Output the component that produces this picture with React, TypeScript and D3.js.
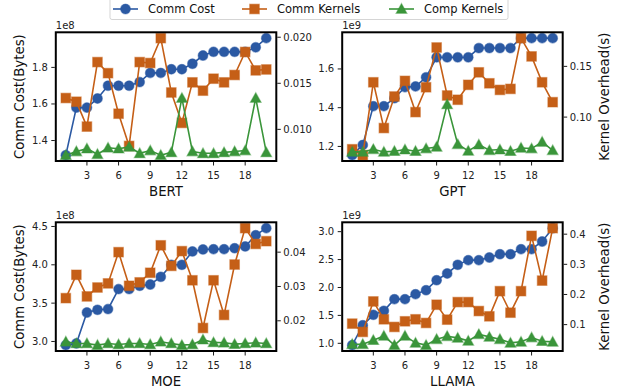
import React from "react";
import * as d3 from "d3";

const xs = d3.range(1, 21);
const xTicks = [3, 6, 9, 12, 15, 18];

const bertCost = [1.32, 1.58, 1.58, 1.63, 1.70, 1.70, 1.70, 1.72, 1.77, 1.77, 1.79, 1.79, 1.82, 1.865, 1.885, 1.885, 1.885, 1.885, 1.91, 1.96];
const bertComm = [0.0134, 0.0130, 0.0103, 0.0173, 0.0161, 0.0117, 0.0082, 0.0173, 0.0172, 0.0199, 0.0140, 0.0107, 0.0151, 0.0142, 0.0155, 0.0151, 0.0159, 0.0184, 0.0164, 0.0165];
const bertComp = [0.0072, 0.0076, 0.0079, 0.0073, 0.0080, 0.0079, 0.0081, 0.0074, 0.0077, 0.0072, 0.0075, 0.0134, 0.0076, 0.0074, 0.0074, 0.0075, 0.0076, 0.0077, 0.0134, 0.0075];

const gptCost = [1.155, 1.208, 1.408, 1.408, 1.449, 1.506, 1.51, 1.557, 1.66, 1.66, 1.66, 1.66, 1.708, 1.708, 1.708, 1.708, 1.759, 1.759, 1.759, 1.759];
const gptComm = [0.0683, 0.0625, 0.1343, 0.0892, 0.1203, 0.1357, 0.1049, 0.1294, 0.1686, 0.1213, 0.1171, 0.1318, 0.1441, 0.1333, 0.1268, 0.1278, 0.1778, 0.1598, 0.1343, 0.1147];
const gptComp = [0.0657, 0.0657, 0.0683, 0.0657, 0.0664, 0.068, 0.0664, 0.069, 0.0706, 0.1125, 0.0732, 0.0667, 0.0729, 0.0673, 0.068, 0.0664, 0.0696, 0.069, 0.0755, 0.0673];

const moeCost = [2.952, 2.974, 3.378, 3.413, 3.422, 3.683, 3.683, 3.726, 3.743, 3.843, 4.0, 4.0, 4.174, 4.2, 4.204, 4.204, 4.217, 4.239, 4.387, 4.478];
const moeComm = [0.0266, 0.0334, 0.0271, 0.0297, 0.0309, 0.0400, 0.0302, 0.0312, 0.0340, 0.0420, 0.0360, 0.0403, 0.0318, 0.0179, 0.0318, 0.0217, 0.0364, 0.0470, 0.0424, 0.0432];
const moeComp = [0.0139, 0.0134, 0.0134, 0.0129, 0.0134, 0.0131, 0.0134, 0.0134, 0.0131, 0.0139, 0.0134, 0.0129, 0.0131, 0.0145, 0.0137, 0.0136, 0.0132, 0.0134, 0.0136, 0.0134];

const llamaCost = [0.967, 1.325, 1.51, 1.582, 1.791, 1.791, 1.881, 1.952, 2.131, 2.251, 2.406, 2.49, 2.49, 2.537, 2.597, 2.597, 2.687, 2.687, 2.824, 3.063];
const llamaComm = [0.1033, 0.0758, 0.1769, 0.1176, 0.0923, 0.111, 0.1176, 0.1055, 0.166, 0.1165, 0.1747, 0.1747, 0.145, 0.1275, 0.211, 0.1396, 0.211, 0.3945, 0.246, 0.42];
const llamaComp = [0.035, 0.035, 0.0484, 0.0626, 0.0319, 0.0626, 0.0396, 0.0319, 0.0516, 0.0615, 0.056, 0.0462, 0.068, 0.0593, 0.0516, 0.0396, 0.0429, 0.0571, 0.045, 0.0429];

const names = ["BERT", "GPT", "MOE", "LLAMA"];
const exponents = ["1e8", "1e9", "1e8", "1e9"];
const leftTicks = [[1.4, 1.6, 1.8], [1.2, 1.4, 1.6], [3.0, 3.5, 4.0, 4.5], [1.0, 1.5, 2.0, 2.5, 3.0]];
const rightTicks = [[0.010, 0.015, 0.020], [0.10, 0.15], [0.02, 0.03, 0.04], [0.1, 0.2, 0.3, 0.4]];
const rightFormats = [".3f", ".2f", ".2f", ".1f"];
const costSeries = [bertCost, gptCost, moeCost, llamaCost];
const commSeries = [bertComm, gptComm, moeComm, llamaComm];
const compSeries = [bertComp, gptComp, moeComp, llamaComp];
const seriesNames = ["Comm Cost", "Comm Kernels", "Comp Kernels"];

const BLUE = "#2b59a3";
const ORANGE = "#c55f17";
const GREEN = "#3a953a";
const FONT = "DejaVu Sans, sans-serif";

const PLOT_W = 220.5;
const PLOT_H = 128.7;
const lefts = [55.8, 342.2];
const tops = [32.3, 222.3];

function pad(ext: number[]) {
  const r = ext[1] - ext[0];
  return [ext[0] - r * 0.05, ext[1] + r * 0.05];
}

function Marker({ kind, x, y, color }: { kind: string; x: number; y: number; color: string }) {
  const common = { fill: color, stroke: color, strokeOpacity: 0.45, strokeWidth: 1.2 } as any;
  if (kind === "circle") return <circle cx={x} cy={y} r={4.9} {...common} />;
  if (kind === "square") return <rect x={x - 4.8} y={y - 4.8} width={9.6} height={9.6} {...common} />;
  const s = 5.4;
  return <path d={`M${x},${y - s} L${x + s},${y + s * 0.8} L${x - s},${y + s * 0.8} Z`} {...common} />;
}

function Panel({ i }: { i: number }) {
  const col = i % 2;
  const row = Math.floor(i / 2);
  const x0 = lefts[col];
  const y0 = tops[row];
  const x = d3.scaleLinear().domain([0.05, 20.95]).range([x0, x0 + PLOT_W]);
  const yL = d3.scaleLinear().domain(pad(d3.extent(costSeries[i]) as number[])).range([y0 + PLOT_H, y0]);
  const rAll = commSeries[i].concat(compSeries[i]);
  const yR = d3.scaleLinear().domain(pad(d3.extent(rAll) as number[])).range([y0 + PLOT_H, y0]);
  const line = (ys: d3.ScaleLinear<number, number>) =>
    d3.line<number>().x((_, j) => x(xs[j])).y((v) => ys(v));
  const fmtR = d3.format(rightFormats[i]);
  const x1 = x0 + PLOT_W;
  const yb = y0 + PLOT_H;
  return (
    <g>
      <defs>
        <clipPath id={`clip${i}`}>
          <rect x={x0} y={y0} width={PLOT_W} height={PLOT_H} />
        </clipPath>
      </defs>
      <g clipPath={`url(#clip${i})`}>
        <path d={line(yL)(costSeries[i]) || ""} fill="none" stroke={BLUE} strokeWidth={1.6} />
        {costSeries[i].map((v, j) => (
          <Marker key={`c${j}`} kind="circle" x={x(xs[j])} y={yL(v)} color={BLUE} />
        ))}
        <path d={line(yR)(commSeries[i]) || ""} fill="none" stroke={ORANGE} strokeWidth={1.6} />
        {commSeries[i].map((v, j) => (
          <Marker key={`k${j}`} kind="square" x={x(xs[j])} y={yR(v)} color={ORANGE} />
        ))}
        <path d={line(yR)(compSeries[i]) || ""} fill="none" stroke={GREEN} strokeWidth={1.6} />
        {compSeries[i].map((v, j) => (
          <Marker key={`p${j}`} kind="tri" x={x(xs[j])} y={yR(v)} color={GREEN} />
        ))}
      </g>
      <rect x={x0} y={y0} width={PLOT_W} height={PLOT_H} fill="none" stroke="#000" strokeWidth={2} />
      {xTicks.map((t) => (
        <g key={`xt${t}`}>
          <line x1={x(t)} x2={x(t)} y1={yb + 1} y2={yb + 4.5} stroke="#000" strokeWidth={0.9} />
          <text x={x(t)} y={yb + 18} textAnchor="middle" fontSize={10} fontFamily={FONT} fill="#222">{t}</text>
        </g>
      ))}
      {leftTicks[i].map((t) => (
        <g key={`yl${t}`}>
          <line x1={x0 - 4.5} x2={x0 - 1} y1={yL(t)} y2={yL(t)} stroke="#000" strokeWidth={0.9} />
          <text x={x0 - 8} y={yL(t)} dy="0.35em" textAnchor="end" fontSize={10} fontFamily={FONT} fill="#222">{t.toFixed(1)}</text>
        </g>
      ))}
      {rightTicks[i].map((t) => (
        <g key={`yr${t}`}>
          <line x1={x1 + 1} x2={x1 + 4.5} y1={yR(t)} y2={yR(t)} stroke="#000" strokeWidth={0.9} />
          <text x={x1 + 7} y={yR(t)} dy="0.35em" textAnchor="start" fontSize={10} fontFamily={FONT} fill="#222">{fmtR(t)}</text>
        </g>
      ))}
      <text x={x0} y={y0 - 3} fontSize={10} fontFamily={FONT} fill="#222">{exponents[i]}</text>
      <text x={(x0 + x1) / 2} y={yb + 34.5} textAnchor="middle" fontSize={13.3} fontFamily={FONT} fill="#111">{names[i]}</text>
      {col === 0 ? (
        <text transform={`translate(19.5,${(y0 + yb) / 2}) rotate(-90)`} textAnchor="middle" dy="0.35em" fontSize={13.3} fontFamily={FONT} fill="#111">Comm Cost(Bytes)</text>
      ) : (
        <text transform={`translate(604,${(y0 + yb) / 2}) rotate(-90)`} textAnchor="middle" dy="0.35em" fontSize={13.3} fontFamily={FONT} fill="#111">Kernel Overhead(s)</text>
      )}
    </g>
  );
}

function Legend() {
  const items = [
    { x: 113, kind: "circle", color: BLUE },
    { x: 242, kind: "square", color: ORANGE },
    { x: 389, kind: "tri", color: GREEN },
  ];
  const cy = 9;
  return (
    <g>
      <rect x={110} y={-6} width={398} height={25.5} rx={2} fill="#fff" stroke="#d0d0d0" strokeWidth={0.9} />
      {items.map((it, k) => (
        <g key={k}>
          <line x1={it.x} x2={it.x + 25} y1={cy} y2={cy} stroke={it.color} strokeWidth={1.6} />
          <Marker kind={it.kind} x={it.x + 12.5} y={cy} color={it.color} />
          <text x={it.x + 35} y={cy} dy="0.35em" fontSize={11.5} fontFamily={FONT} fill="#111">{seriesNames[k]}</text>
        </g>
      ))}
    </g>
  );
}

export default function App() {
  return (
    <svg width={624} height={390} style={{ position: "absolute", left: 0, top: 0, background: "#fff" }}>
      <rect x={0} y={0} width={624} height={390} fill="#fff" />
      {[0, 1, 2, 3].map((i) => (
        <Panel key={i} i={i} />
      ))}
      <Legend />
    </svg>
  );
}
